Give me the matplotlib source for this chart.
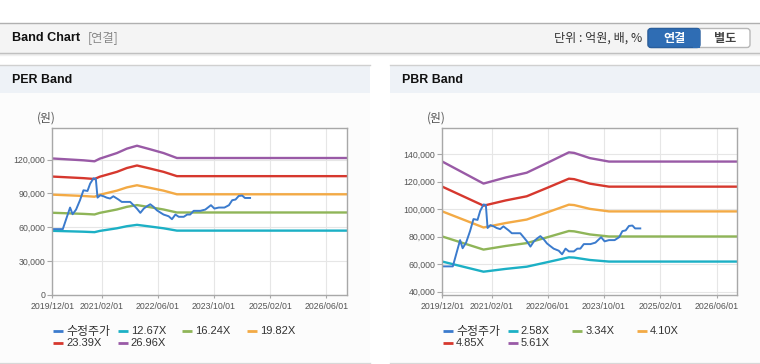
import numpy as np
import pandas as pd
import matplotlib
matplotlib.use('Agg')
import matplotlib.pyplot as plt
from matplotlib.patches import Rectangle, FancyBboxPatch

# adjusted close (수정주가)
price_dates = ['2019-12-04', '2020-03-01', '2020-05-03', '2020-05-25', '2020-06-24', '2020-07-28',
               '2020-08-27', '2020-10-01', '2020-10-24', '2020-11-22', '2020-12-12', '2020-12-27',
               '2021-01-20', '2021-02-18', '2021-03-16', '2021-04-15', '2021-05-13', '2021-06-27',
               '2021-07-25', '2021-10-06', '2021-11-04', '2021-12-03', '2022-01-02', '2022-02-01',
               '2022-03-01', '2022-03-29', '2022-04-27', '2022-05-25', '2022-06-24', '2022-07-22',
               '2022-09-04', '2022-10-03', '2022-11-02', '2022-12-01', '2023-01-13', '2023-02-12',
               '2023-03-10', '2023-04-09', '2023-06-06', '2023-07-19', '2023-08-18', '2023-09-06',
               '2023-10-06', '2023-11-13', '2024-01-01', '2024-02-09', '2024-03-08', '2024-04-06',
               '2024-05-04', '2024-06-03', '2024-06-26', '2024-08-10']
price_vals = [58400, 58400, 77500, 71600, 75700, 84000,
              92800, 92200, 98700, 103400, 103100, 86300,
              88400, 87500, 86300, 85500, 87500, 84600,
              82500, 82500, 79600, 76600, 72800, 76600,
              78700, 80400, 78100, 75100, 73100, 71300,
              69800, 67200, 71300, 69300, 69300, 71300,
              71300, 74600, 74600, 75700, 78100, 79600,
              76600, 77500, 77500, 79600, 84000, 84600,
              87800, 88100, 86000, 86000]

# PER band base (EPS) and multiples
per_dates = ['2019-12-01', '2020-06-01', '2020-08-28', '2020-12-01', '2021-01-15', '2021-06-13',
             '2021-09-07', '2021-12-04', '2022-03-28', '2022-07-22', '2022-11-15', '2026-11-28']
per_eps = [4488, 4447, 4427, 4395, 4481, 4666, 4811, 4907, 4790, 4666, 4503, 4503]
per_multiples = [12.67, 16.24, 19.82, 23.39, 26.96]

# PBR band base (BPS) and multiples
pbr_dates = ['2019-12-01', '2020-11-22', '2021-06-01', '2021-12-01', '2022-06-01', '2022-12-01',
             '2023-01-15', '2023-06-01', '2023-11-13', '2026-11-28']
pbr_bps = [23993, 21141, 21925, 22549, 23850, 25187, 25116, 24439, 23993, 23993]
pbr_multiples = [2.58, 3.34, 4.10, 4.85, 5.61]

x_ticks = ['2019/12/01', '2021/02/01', '2022/06/01', '2023/10/01', '2025/02/01', '2026/06/01']
per_yticks = [0, 30000, 60000, 90000, 120000]
pbr_yticks = [40000, 60000, 80000, 100000, 120000, 140000]

price_color = '#3b7bcd'
band_colors = ['#1cb0c5', '#8fb558', '#f3aa45', '#d6382e', '#995aa6']

FONT = ['Liberation Sans', 'Noto Sans CJK KR']
KFONT = ['Noto Sans CJK KR', 'Liberation Sans']
plt.rcParams['font.family'] = FONT

fig = plt.figure(figsize=(7.6, 3.64), dpi=100)
fig.patch.set_facecolor('white')

# page background drawn in pixel coordinates
bg = fig.add_axes([0, 0, 1, 1])
bg.set_xlim(0, 760)
bg.set_ylim(364, 0)
bg.axis('off')

bg.add_patch(Rectangle((0, 22.5), 760, 30, facecolor='#f4f4f4', edgecolor='none'))
bg.plot([0, 760], [22.5, 22.5], color='#b0b0b0', lw=1)
bg.plot([0, 760], [52.8, 52.8], color='#b8b8b8', lw=1)
bg.plot([0, 760], [54, 54], color='#e2e2e2', lw=1)
bg.plot([0, 760], [55, 55], color='#f0f0f0', lw=1)
bg.text(12, 38, 'Band Chart', fontsize=9.1, fontweight='bold', va='center', color='#111111')
bg.text(88, 38, '[연결]', fontsize=8.8, va='center', color='#888888', family=KFONT)
bg.text(642, 38, '단위 : 억원, 배, %', fontsize=8.7, va='center', ha='right', color='#333333', family=KFONT)

bg.add_patch(FancyBboxPatch((648, 28.5), 102, 19, boxstyle='round,pad=0,rounding_size=3',
                            facecolor='white', edgecolor='#b8b8b8', lw=1))
bg.add_patch(FancyBboxPatch((648, 28.5), 52, 19, boxstyle='round,pad=0,rounding_size=3',
                            facecolor='#2f6db4', edgecolor='#2a5f9e', lw=1))
bg.add_patch(Rectangle((693, 28.5), 7, 19, facecolor='#2f6db4', edgecolor='none'))
bg.text(674, 38.3, '연결', fontsize=8.7, fontweight='bold', va='center', ha='center', color='white', family=KFONT)
bg.text(725, 38.3, '별도', fontsize=8.7, fontweight='bold', va='center', ha='center', color='#444444', family=KFONT)

for x0, x1, title in [(0, 370, 'PER Band'), (390, 760, 'PBR Band')]:
    bg.add_patch(Rectangle((x0, 93), x1 - x0, 269, facecolor='#fcfcfc', edgecolor='none'))
    bg.add_patch(Rectangle((x0, 64.5), x1 - x0, 28.5, facecolor='#eef2f7', edgecolor='none'))
    bg.plot([x0, x1], [64.5, 64.5], color='#d0d0d0', lw=1)
    bg.plot([x0, x1], [362.7, 362.7], color='#d8d8d8', lw=1)
    bg.text(x0 + 12, 80, title, fontsize=8.9, fontweight='bold', va='center', color='#111111')


def band_panel(rect, dates, base, multiples, yticks, ylim, unit_x, legend_x):
    ax = fig.add_axes(rect)
    ax.set_facecolor('white')
    d = pd.to_datetime(dates)
    for mult, col in zip(multiples, band_colors):
        ax.plot(d, np.array(base) * mult, color=col, lw=1.7, solid_capstyle='butt')
    ax.plot(pd.to_datetime(price_dates), price_vals, color=price_color, lw=1.4)
    ax.set_xlim(pd.Timestamp('2019-12-01'), pd.Timestamp('2026-11-28'))
    ax.set_ylim(*ylim)
    ax.set_xticks(pd.to_datetime(x_ticks))
    ax.set_xticklabels(x_ticks)
    ax.set_yticks(yticks)
    ax.set_yticklabels([f'{v:,}' for v in yticks])
    ax.grid(True, color='#e6e6e6', lw=0.8)
    ax.set_axisbelow(True)
    for s in ax.spines.values():
        s.set_color('#a8a8a8')
        s.set_linewidth(1)
    ax.tick_params(axis='both', colors='#a8a8a8', labelcolor='#555555', labelsize=6.3)
    ax.tick_params(axis='y', length=3.4, pad=1.5)
    ax.tick_params(axis='x', length=2.2, pad=2.5)

    bg.text(unit_x, 118, '(원)', fontsize=8.5, va='center', color='#555555', family=KFONT)

    labels = ['수정주가'] + [f'{m:.2f}X' for m in multiples]
    colors = [price_color] + band_colors
    for i, (lab, col) in enumerate(zip(labels, colors)):
        row, c = divmod(i, 4)
        lx = legend_x + c * 64.7
        ly = 331 + row * 12.3
        bg.plot([lx, lx + 10], [ly, ly], color=col, lw=2, solid_capstyle='butt')
        size = 8.6 if i == 0 else 8
        bg.text(lx + 13, ly, lab, fontsize=size, va='center', color='#333333',
                family=KFONT if i == 0 else FONT)
    return ax


band_panel([52.3 / 760, 69 / 364, 294.7 / 760, 167 / 364], per_dates, per_eps, per_multiples,
           per_yticks, (0, 148000), 37, 53)
band_panel([442.3 / 760, 69 / 364, 295 / 760, 167 / 364], pbr_dates, pbr_bps, pbr_multiples,
           pbr_yticks, (37600, 159000), 427, 443)

fig.savefig('out.png', dpi=100, facecolor='white')
